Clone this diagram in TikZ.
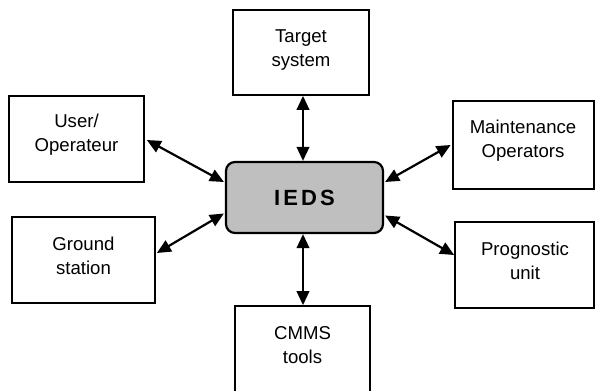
\documentclass[tikz,border=0pt]{standalone}
\usepackage{fontspec}
\setmainfont{Liberation Sans}
\usetikzlibrary{arrows.meta,calc}
\begin{document}
\begin{tikzpicture}[x=1pt,y=-1pt,
  box/.style={draw=black,line width=1.7pt,fill=white,inner sep=0pt},
  lbl/.style={align=center,font=\fontsize{18.6}{24}\selectfont,inner sep=0pt},
  link/.style={line width=2.2pt,{Triangle[length=14pt,width=12.5pt]}-{Triangle[length=14pt,width=12.5pt]}}]
\useasboundingbox (0,0) rectangle (595,391);
\clip (0,0) rectangle (595,391);
% boxes
\node[box,minimum width=136pt,minimum height=85pt] (target) at (301,52.5) {};
\node[lbl] at (301,50) {Target\\system};
\node[box,minimum width=135pt,minimum height=86pt] (user) at (76.5,139) {};
\node[lbl] at (76.5,135) {User/\\Operateur};
\node[box,minimum width=141pt,minimum height=88pt] (maint) at (523.5,145) {};
\node[lbl] at (523,141) {Maintenance\\Operators};
\node[box,minimum width=143pt,minimum height=86pt] (ground) at (83.5,260) {};
\node[lbl] at (83.5,256) {Ground\\station};
\node[box,minimum width=139pt,minimum height=86pt] (prog) at (524.5,265) {};
\node[lbl] at (525,261) {Prognostic\\unit};
\node[box,minimum width=135pt,minimum height=90pt] (cmms) at (302.5,351) {};
\node[lbl] at (302.5,345) {CMMS\\tools};
\node[draw=black,line width=2.2pt,fill=black!25,rounded corners=9pt,minimum width=157pt,minimum height=71pt,inner sep=0pt,
  font=\fontsize{22}{26}\selectfont\bfseries\addfontfeature{LetterSpace=14}] (ieds) at (304.5,197.5) {IEDS};
% connectors
\draw[link] ($(ieds.north)+(-1.5,0)$) -- ($(ieds.north |- target.south)+(-1.5,0)$);
\draw[link] ($(ieds.south)+(-1.5,0)$) -- ($(ieds.south |- cmms.north)+(-1.5,0)$);
\draw[link] ([xshift=-1pt,yshift=15.5pt]ieds.west) -- ([xshift=2pt,yshift=-1pt]user.east);
\draw[link] ([xshift=1pt,yshift=15.5pt]ieds.east) -- ([xshift=-1.5pt]maint.west);
\draw[link] ([xshift=-1pt,yshift=-16pt]ieds.west) -- ([xshift=1pt,yshift=7pt]ground.east);
\draw[link] ([xshift=1pt,yshift=-18pt]ieds.east) -- ([yshift=10pt]prog.west);
\end{tikzpicture}
\end{document}
